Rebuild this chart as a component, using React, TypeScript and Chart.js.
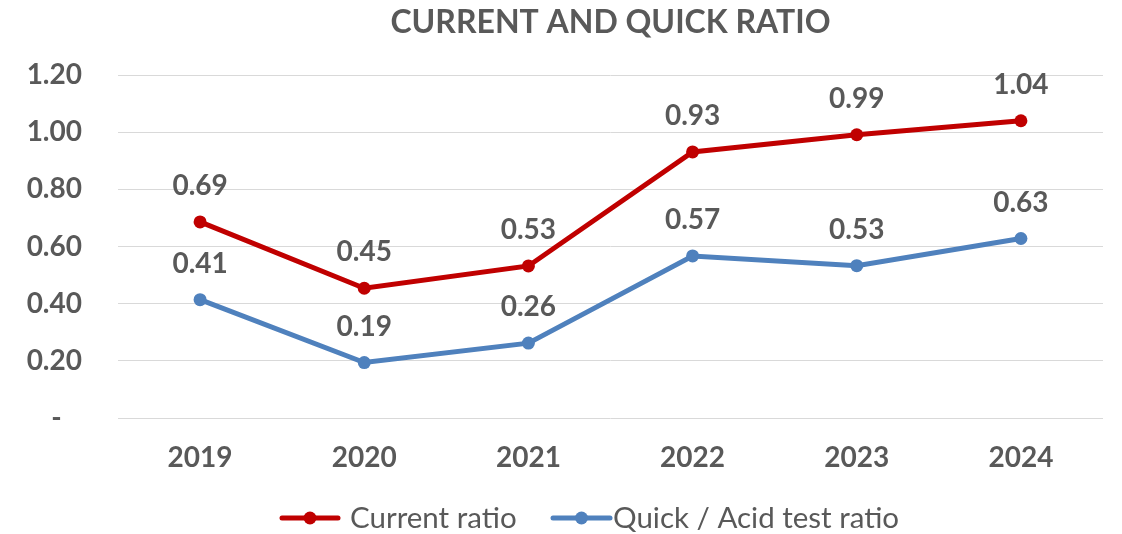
import React, { useEffect, useRef } from "react";
import { Chart, registerables } from "chart.js";

Chart.register(...registerables);

const categories = ["2019", "2020", "2021", "2022", "2023", "2024"];
const currentRatio = [0.686, 0.454, 0.532, 0.931, 0.991, 1.04];
const quickRatio = [0.414, 0.194, 0.262, 0.567, 0.533, 0.628];
const yTicks = [0, 0.2, 0.4, 0.6, 0.8, 1.0, 1.2];
const seriesNames = ["Current ratio", "Quick / Acid test ratio"];
const titleText = "CURRENT AND QUICK RATIO";

const RED = "#C00000";
const BLUE = "#4F81BD";
const TEXT = "#595959";
const FONT = "Lato, 'Open Sans', sans-serif";

const dataLabelPlugin = {
  id: "dataLabels",
  afterDatasetsDraw(chart: any) {
    const ctx = chart.ctx;
    ctx.save();
    ctx.font = `bold 28px ${FONT}`;
    ctx.fillStyle = TEXT;
    ctx.textAlign = "center";
    ctx.textBaseline = "middle";
    chart.data.datasets.forEach((ds: any, i: number) => {
      const meta = chart.getDatasetMeta(i);
      meta.data.forEach((pt: any, j: number) => {
        const v = ds.data[j] as number;
        ctx.fillText(v.toFixed(2), pt.x, pt.y - 36);
      });
    });
    ctx.restore();
  },
};

const titlePlugin = {
  id: "customTitle",
  afterDraw(chart: any) {
    const ctx = chart.ctx;
    const a = chart.chartArea;
    ctx.save();
    ctx.font = `bold 32px ${FONT}`;
    ctx.fillStyle = TEXT;
    ctx.textAlign = "center";
    ctx.textBaseline = "middle";
    ctx.fillText(titleText, (a.left + a.right) / 2, 23);
    ctx.restore();
  },
};

const legendPlugin = {
  id: "customLegend",
  afterDraw(chart: any) {
    const ctx = chart.ctx;
    const y = 518;
    const items = [
      { color: RED, x0: 282, x1: 338, tx: 350, label: seriesNames[0] },
      { color: BLUE, x0: 553, x1: 610, tx: 613, label: seriesNames[1] },
    ];
    ctx.save();
    items.forEach((it) => {
      ctx.strokeStyle = it.color;
      ctx.lineWidth = 5;
      ctx.lineCap = "round";
      ctx.beginPath();
      ctx.moveTo(it.x0, y);
      ctx.lineTo(it.x1, y);
      ctx.stroke();
      ctx.fillStyle = it.color;
      ctx.beginPath();
      ctx.arc((it.x0 + it.x1) / 2, y, 6.5, 0, Math.PI * 2);
      ctx.fill();
      ctx.fillStyle = TEXT;
      ctx.font = `29.5px ${FONT}`;
      ctx.textAlign = "left";
      ctx.textBaseline = "middle";
      ctx.fillText(it.label, it.tx, y);
    });
    ctx.restore();
  },
};

export default function App() {
  const canvasRef = useRef<HTMLCanvasElement | null>(null);

  useEffect(() => {
    let chart: Chart | null = null;
    let cancelled = false;
    const make = () => {
      if (cancelled || !canvasRef.current) return;
      chart = new Chart(canvasRef.current, {
        type: "line",
        data: {
          labels: categories,
          datasets: [
            {
              label: seriesNames[0],
              data: currentRatio,
              borderColor: RED,
              backgroundColor: RED,
              borderWidth: 5,
              pointRadius: 6.5,
              pointBackgroundColor: RED,
              pointBorderColor: RED,
              pointBorderWidth: 0,
              tension: 0,
            },
            {
              label: seriesNames[1],
              data: quickRatio,
              borderColor: BLUE,
              backgroundColor: BLUE,
              borderWidth: 5,
              pointRadius: 6.5,
              pointBackgroundColor: BLUE,
              pointBorderColor: BLUE,
              pointBorderWidth: 0,
              tension: 0,
            },
          ],
        },
        options: {
          animation: false,
          responsive: true,
          maintainAspectRatio: false,
          events: [],
          layout: { padding: { left: 0, right: 19, top: 75, bottom: 0 } },
          plugins: {
            legend: { display: false },
            tooltip: { enabled: false },
            title: { display: false },
          },
          scales: {
            x: {
              offset: true,
              grid: { display: false, drawTicks: false },
              border: { display: false },
              ticks: {
                color: TEXT,
                font: { family: FONT, size: 28, weight: "bold" },
                padding: 23,
                maxRotation: 0,
              },
              afterFit(scale: any) {
                scale.height = 116;
              },
            },
            y: {
              min: 0,
              max: 1.2,
              afterBuildTicks(scale: any) {
                scale.ticks = yTicks.map((v) => ({ value: v }));
              },
              grid: { color: "#D9D9D9", lineWidth: 1, drawTicks: false },
              border: { display: false },
              ticks: {
                color: TEXT,
                font: { family: FONT, size: 28, weight: "bold" },
                padding: 36,
                callback: (v: any) => (Number(v) === 0 ? "-   " : Number(v).toFixed(2)),
              },
              afterFit(scale: any) {
                scale.width = 118;
              },
            },
          },
        },
        plugins: [dataLabelPlugin, titlePlugin, legendPlugin],
      } as any);
    };
    const fontsReady = (document as any).fonts
      ? Promise.all([
          (document as any).fonts.load(`bold 28px Lato`),
          (document as any).fonts.load(`28px Lato`),
        ]).catch(() => null)
      : Promise.resolve(null);
    fontsReady.then(make);
    return () => {
      cancelled = true;
      if (chart) chart.destroy();
    };
  }, []);

  return (
    <div style={{ width: 1122, height: 534, position: "relative", background: "#fff" }}>
      <style>{`body{margin:0}`}</style>
      <canvas ref={canvasRef} />
    </div>
  );
}
